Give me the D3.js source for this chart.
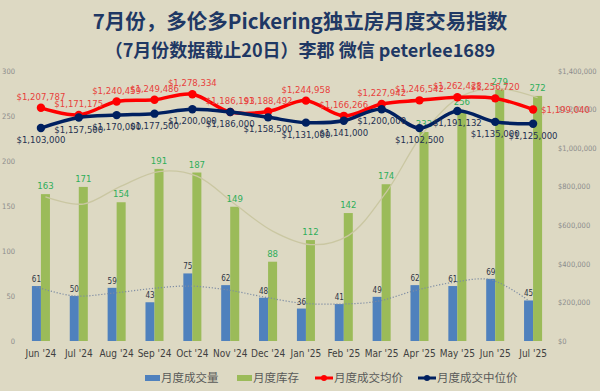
<!DOCTYPE html>
<html>
<head>
<meta charset="utf-8">
<script src="https://cdn.jsdelivr.net/npm/d3@7"></script>
<style>
    body { margin: 0; background: #ddd9c3; }
    svg { display: block; }
    .num { font-family: "Liberation Sans Narrow", "DejaVu Sans Condensed", sans-serif; }
</style>
</head>
<body>
<div id="chart"></div>
<script>
'use strict';

var months = ["Jun '24", "Jul '24", "Aug '24", "Sep '24", "Oct '24", "Nov '24", "Dec '24",
              "Jan '25", "Feb '25", "Mar '25", "Apr '25", "May '25", "Jun '25", "Jul '25"];
var sales_volume = [61, 50, 59, 43, 75, 62, 48, 36, 41, 49, 62, 61, 69, 45];
var inventory = [163, 171, 154, 191, 187, 149, 88, 112, 142, 174, 232, 256, 279, 272];
var avg_price = [1207787, 1171175, 1240459, 1249486, 1278334, 1186193, 1188492,
                 1244958, 1166266, 1227942, 1246542, 1262428, 1256720, 1199040];
var median_price = [1103000, 1157500, 1170000, 1177500, 1200000, 1186000, 1158500,
                    1131000, 1141000, 1200000, 1102500, 1191132, 1135000, 1125000];
// trend lines
var inventory_trend = [160, 152, 172, 188, 183, 152, 122, 107, 117, 165, 232, 272, 280, 270];
var volume_trend = [60, 50, 53, 58, 61, 57, 49, 42, 41, 44, 56, 65, 68, 45];
var left_ticks = [0, 50, 100, 150, 200, 250, 300];
var right_ticks = [0, 200000, 400000, 600000, 800000, 1000000, 1200000, 1400000];
var legend_names = ['月度成交量', '月度库存', '月度成交均价', '月度成交中位价'];
var title_lines = ['7月份，多伦多Pickering独立房月度交易指数', '（7月份数据截止20日）李郡 微信 peterlee1689'];

var width = 600,
    height = 391,
    colors = {
        volume: '#4f81bd',
        inventory: '#9bbb59',
        avg: '#ff0000',
        median: '#002060'
    };

var svg = d3.select('#chart')
.append('svg')
.attr('width', width)
.attr('height', height);

svg.append('rect')
.attr('width', width)
.attr('height', height)
.attr('fill', '#ddd9c3');

// title
svg.selectAll('.title')
.data(title_lines)
.enter()
.append('text')
.attr('class', 'title')
.attr('x', 300)
.attr('y', function(d, i) { return i === 0 ? 29 : 57; })
.attr('text-anchor', 'middle')
.attr('font-family', '"Noto Sans CJK SC", sans-serif')
.attr('font-weight', 'bold')
.attr('font-size', function(d, i) { return i === 0 ? 20.5 : 18; })
.attr('fill', '#1f3864')
.text(function(d) { return d; });

var x = d3.scaleBand()
.domain(months)
.range([22, 552]);

var x_sub = d3.scaleBand()
.domain(['volume', 'inventory'])
.range([0, x.bandwidth()])
.paddingOuter(1.1);

var y_left = d3.scaleLinear()
.domain([0, 300])
.range([341, 70.7]);

var y_right = d3.scaleLinear()
.domain([0, 1400000])
.range([341, 70.7]);

var center = function(i) { return x(months[i]) + x.bandwidth() / 2; };

// axes
var left_axis = svg.append('g')
.attr('class', 'num')
.attr('transform', 'translate(17,0)')
.call(d3.axisLeft(y_left).tickValues(left_ticks).tickSize(0).tickPadding(2));

var right_axis = svg.append('g')
.attr('class', 'num')
.attr('transform', 'translate(556,0)')
.call(d3.axisRight(y_right).tickValues(right_ticks).tickSize(0).tickPadding(2)
    .tickFormat(function(d) { return '$' + d3.format(',')(d); }));

var bottom_axis = svg.append('g')
.attr('class', 'num')
.attr('transform', 'translate(0,341)')
.call(d3.axisBottom(x).tickSize(0).tickPadding(9));

[left_axis, right_axis, bottom_axis].forEach(function(g) {
    g.select('.domain').remove();
    g.selectAll('text')
    .attr('font-family', null)
    .attr('fill', '#8c8c8c')
    .attr('font-size', 7.5);
});

bottom_axis.selectAll('text')
.attr('fill', '#404040')
.attr('font-size', 10);

// bars
svg.append('g')
.selectAll('rect')
.data(sales_volume)
.enter()
.append('rect')
.attr('x', function(d, i) { return x(months[i]) + x_sub('volume'); })
.attr('y', function(d) { return y_left(d); })
.attr('width', x_sub.bandwidth())
.attr('height', function(d) { return y_left(0) - y_left(d); })
.attr('fill', colors.volume);

svg.append('g')
.selectAll('rect')
.data(inventory)
.enter()
.append('rect')
.attr('x', function(d, i) { return x(months[i]) + x_sub('inventory'); })
.attr('y', function(d) { return y_left(d); })
.attr('width', x_sub.bandwidth())
.attr('height', function(d) { return y_left(0) - y_left(d); })
.attr('fill', colors.inventory);

// trend lines
var trend_line = function(sub) {
    return d3.line()
    .x(function(d, i) { return x(months[i]) + x_sub(sub) + x_sub.bandwidth() / 2; })
    .y(function(d) { return y_left(d); })
    .curve(d3.curveCatmullRom.alpha(0.5));
};

svg.append('path')
.attr('d', trend_line('inventory')(inventory_trend))
.attr('fill', 'none')
.attr('stroke', '#cac7a2')
.attr('stroke-width', 1.3);

svg.append('path')
.attr('d', trend_line('volume')(volume_trend))
.attr('fill', 'none')
.attr('stroke', '#7d8ca3')
.attr('stroke-width', 1.2)
.attr('stroke-dasharray', '1.2,1.8');

// bar labels
svg.append('g')
.attr('class', 'num')
.selectAll('text')
.data(sales_volume)
.enter()
.append('text')
.attr('x', function(d, i) { return x(months[i]) + x_sub('volume') + x_sub.bandwidth() / 2; })
.attr('y', function(d) { return y_left(d) - 4; })
.attr('text-anchor', 'middle')
.attr('font-size', 8)
.attr('fill', '#2f3545')
.text(function(d) { return d; });

svg.append('g')
.attr('class', 'num')
.selectAll('text')
.data(inventory)
.enter()
.append('text')
.attr('x', function(d, i) { return x(months[i]) + x_sub('inventory') + x_sub.bandwidth() / 2; })
.attr('y', function(d) { return y_left(d) - 5; })
.attr('text-anchor', 'middle')
.attr('font-size', 9.5)
.attr('fill', '#2fae5a')
.text(function(d) { return d; });

// price lines
var price_line = d3.line()
.x(function(d, i) { return center(i); })
.y(function(d) { return y_right(d); })
.curve(d3.curveCatmullRom.alpha(0.5));

var money = function(d) { return '$' + d3.format(',')(d); };

var drawPrice = function(data, color, label_color, below) {
    svg.append('path')
    .attr('d', price_line(data))
    .attr('fill', 'none')
    .attr('stroke', color)
    .attr('stroke-width', 3.5);

    svg.append('g')
    .selectAll('circle')
    .data(data)
    .enter()
    .append('circle')
    .attr('cx', function(d, i) { return center(i); })
    .attr('cy', function(d) { return y_right(d); })
    .attr('r', 4.2)
    .attr('fill', color);

    svg.append('g')
    .attr('class', 'num')
    .selectAll('text')
    .data(data)
    .enter()
    .append('text')
    .attr('x', function(d, i) {
        return (!below && i === data.length - 1) ? center(i) + 8 : center(i);
    })
    .attr('y', function(d, i) {
        if (below) return y_right(d) + 15;
        return i === data.length - 1 ? y_right(d) + 3.5 : y_right(d) - 8;
    })
    .attr('text-anchor', function(d, i) {
        return (!below && i === data.length - 1) ? 'start' : 'middle';
    })
    .attr('font-size', 9.5)
    .attr('fill', label_color)
    .text(money);
};

drawPrice(avg_price, colors.avg, '#e8413c', false);
drawPrice(median_price, colors.median, '#1f3050', true);

// legend
var legend_x = [145, 237, 315, 418];
var legend = svg.append('g')
.selectAll('g')
.data(legend_names)
.enter()
.append('g')
.attr('transform', function(d, i) { return 'translate(' + legend_x[i] + ',378)'; });

legend.each(function(d, i) {
    var g = d3.select(this);
    if (i < 2) {
        g.append('rect')
        .attr('x', 0)
        .attr('y', -3)
        .attr('width', 15)
        .attr('height', 6)
        .attr('fill', i === 0 ? colors.volume : colors.inventory);
    } else {
        var c = i === 2 ? colors.avg : colors.median;
        g.append('line')
        .attr('x1', 0)
        .attr('x2', 18)
        .attr('stroke', c)
        .attr('stroke-width', 3);
        g.append('circle')
        .attr('cx', 9)
        .attr('r', 3)
        .attr('fill', c);
    }
    g.append('text')
    .attr('x', i < 2 ? 16 : 19)
    .attr('y', 4)
    .attr('font-family', '"Noto Sans CJK SC", sans-serif')
    .attr('font-size', 11.5)
    .attr('fill', '#595959')
    .text(d);
});
</script>
</body>
</html>
